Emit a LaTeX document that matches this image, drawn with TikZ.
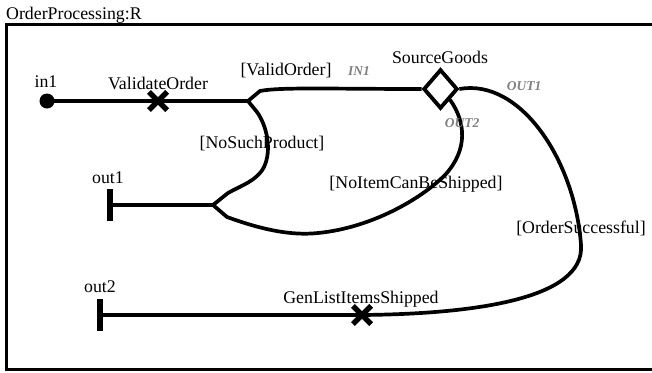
\documentclass[tikz,border=0pt]{standalone}
\usepackage{fontspec}
\setmainfont{Liberation Serif}
\usetikzlibrary{shapes.geometric,shapes.misc}
\definecolor{portgray}{RGB}{128,128,128}
\begin{document}
\begin{tikzpicture}[x=1pt,y=-1pt,
  wire/.style={line width=3.7pt},
  frame/.style={line width=3.2pt},
  txt/.style={anchor=base,inner sep=0pt,font=\fontsize{17.8}{20}\selectfont},
  porttxt/.style={anchor=base,inner sep=0pt,text=portgray,
    font=\fontsize{13.5}{15}\selectfont\bfseries\itshape},
  startdot/.style={circle,fill=black,inner sep=0pt,minimum size=15pt},
  endbar/.style={rectangle,fill=black,inner sep=0pt,minimum width=6pt,minimum height=32pt},
  actmark/.style={cross out,draw,line width=5pt,inner sep=0pt,minimum size=13pt},
  choice/.style={diamond,draw,line width=3.7pt,fill=white,inner sep=0pt,
    minimum width=34pt,minimum height=39pt}]

\useasboundingbox (0,0) rectangle (652,372);
\clip (0,0) rectangle (652,372);
\fill[white] (0,0) rectangle (652,372);

% enclosing component frame (its right side lies past the page)
\draw[frame] (6.5,24.5) rectangle (690,369.5);
\node[txt,anchor=base west] (title) at (6,19) {OrderProcessing:R};

% ports and branch points
\node[startdot] (in1) at (47,101) {};
\node[endbar] (out1) at (110,205) {};
\node[endbar] (out2) at (100,315) {};
\coordinate (b1) at (248,101);
\coordinate (b2) at (213,205);
\coordinate (b1a) at (260,91);
\coordinate (b1b) at (257,112);
\coordinate (b2a) at (228,193);
\coordinate (b2b) at (227,217);
\coordinate (r1) at (581,245);

% activities and choice
\node[actmark] (validate) at (158,101) {};
\node[actmark] (genlist) at (362,315) {};
\node[choice] (source) at (440.5,89) {};

% connectors
\draw[wire] (in1.center) -- (validate.center) -- (b1);
\draw[wire] (b1) -- (b1a) .. controls (280,87) and (330,89) .. (source.west);
\draw[wire] (b1) -- (b1b) .. controls (267,126) and (272,150) .. (264,167)
  .. controls (257,181) and (240,186) .. (b2a) -- (b2);
\draw[wire] (out1.center) -- (b2);
\draw[wire] (b2) -- (b2b) .. controls (260,229) and (290,236) .. (318,233)
  .. controls (370,228) and (420,200) .. (445,175)
  .. controls (468,150) and (466,122) .. (source.south east);
\draw[wire] (source.east) .. controls (520,78) and (575,160) .. (r1)
  .. controls (585,300) and (470,314) .. (genlist.center);
\draw[wire] (genlist.center) -- (out2.center);
\node[actmark] at (validate) {};
\node[actmark] at (genlist) {};
\node[choice] at (source) {};

% labels
\node[txt] (lin1) at (46,87) {in1};
\node[txt] (lvalidate) at (158,89) {ValidateOrder};
\node[txt] (lvalid) at (286,75) {[ValidOrder]};
\node[porttxt] (lin) at (359,75) {IN1};
\node[txt] (lsource) at (440,63) {SourceGoods};
\node[porttxt] (lout1) at (524,90) {OUT1};
\node[porttxt] (lout2) at (462,127) {OUT2};
\node[txt] (lnosuch) at (262,148) {[NoSuchProduct]};
\node[txt] (lout1p) at (108,183) {out1};
\node[txt] (lnoitem) at (416,188) {[NoItemCanBeShipped]};
\node[txt] (lsucc) at (581,233) {[OrderSuccessful]};
\node[txt] (lout2p) at (100,292) {out2};
\node[txt] (lgen) at (361,303) {GenListItemsShipped};
\end{tikzpicture}
\end{document}
